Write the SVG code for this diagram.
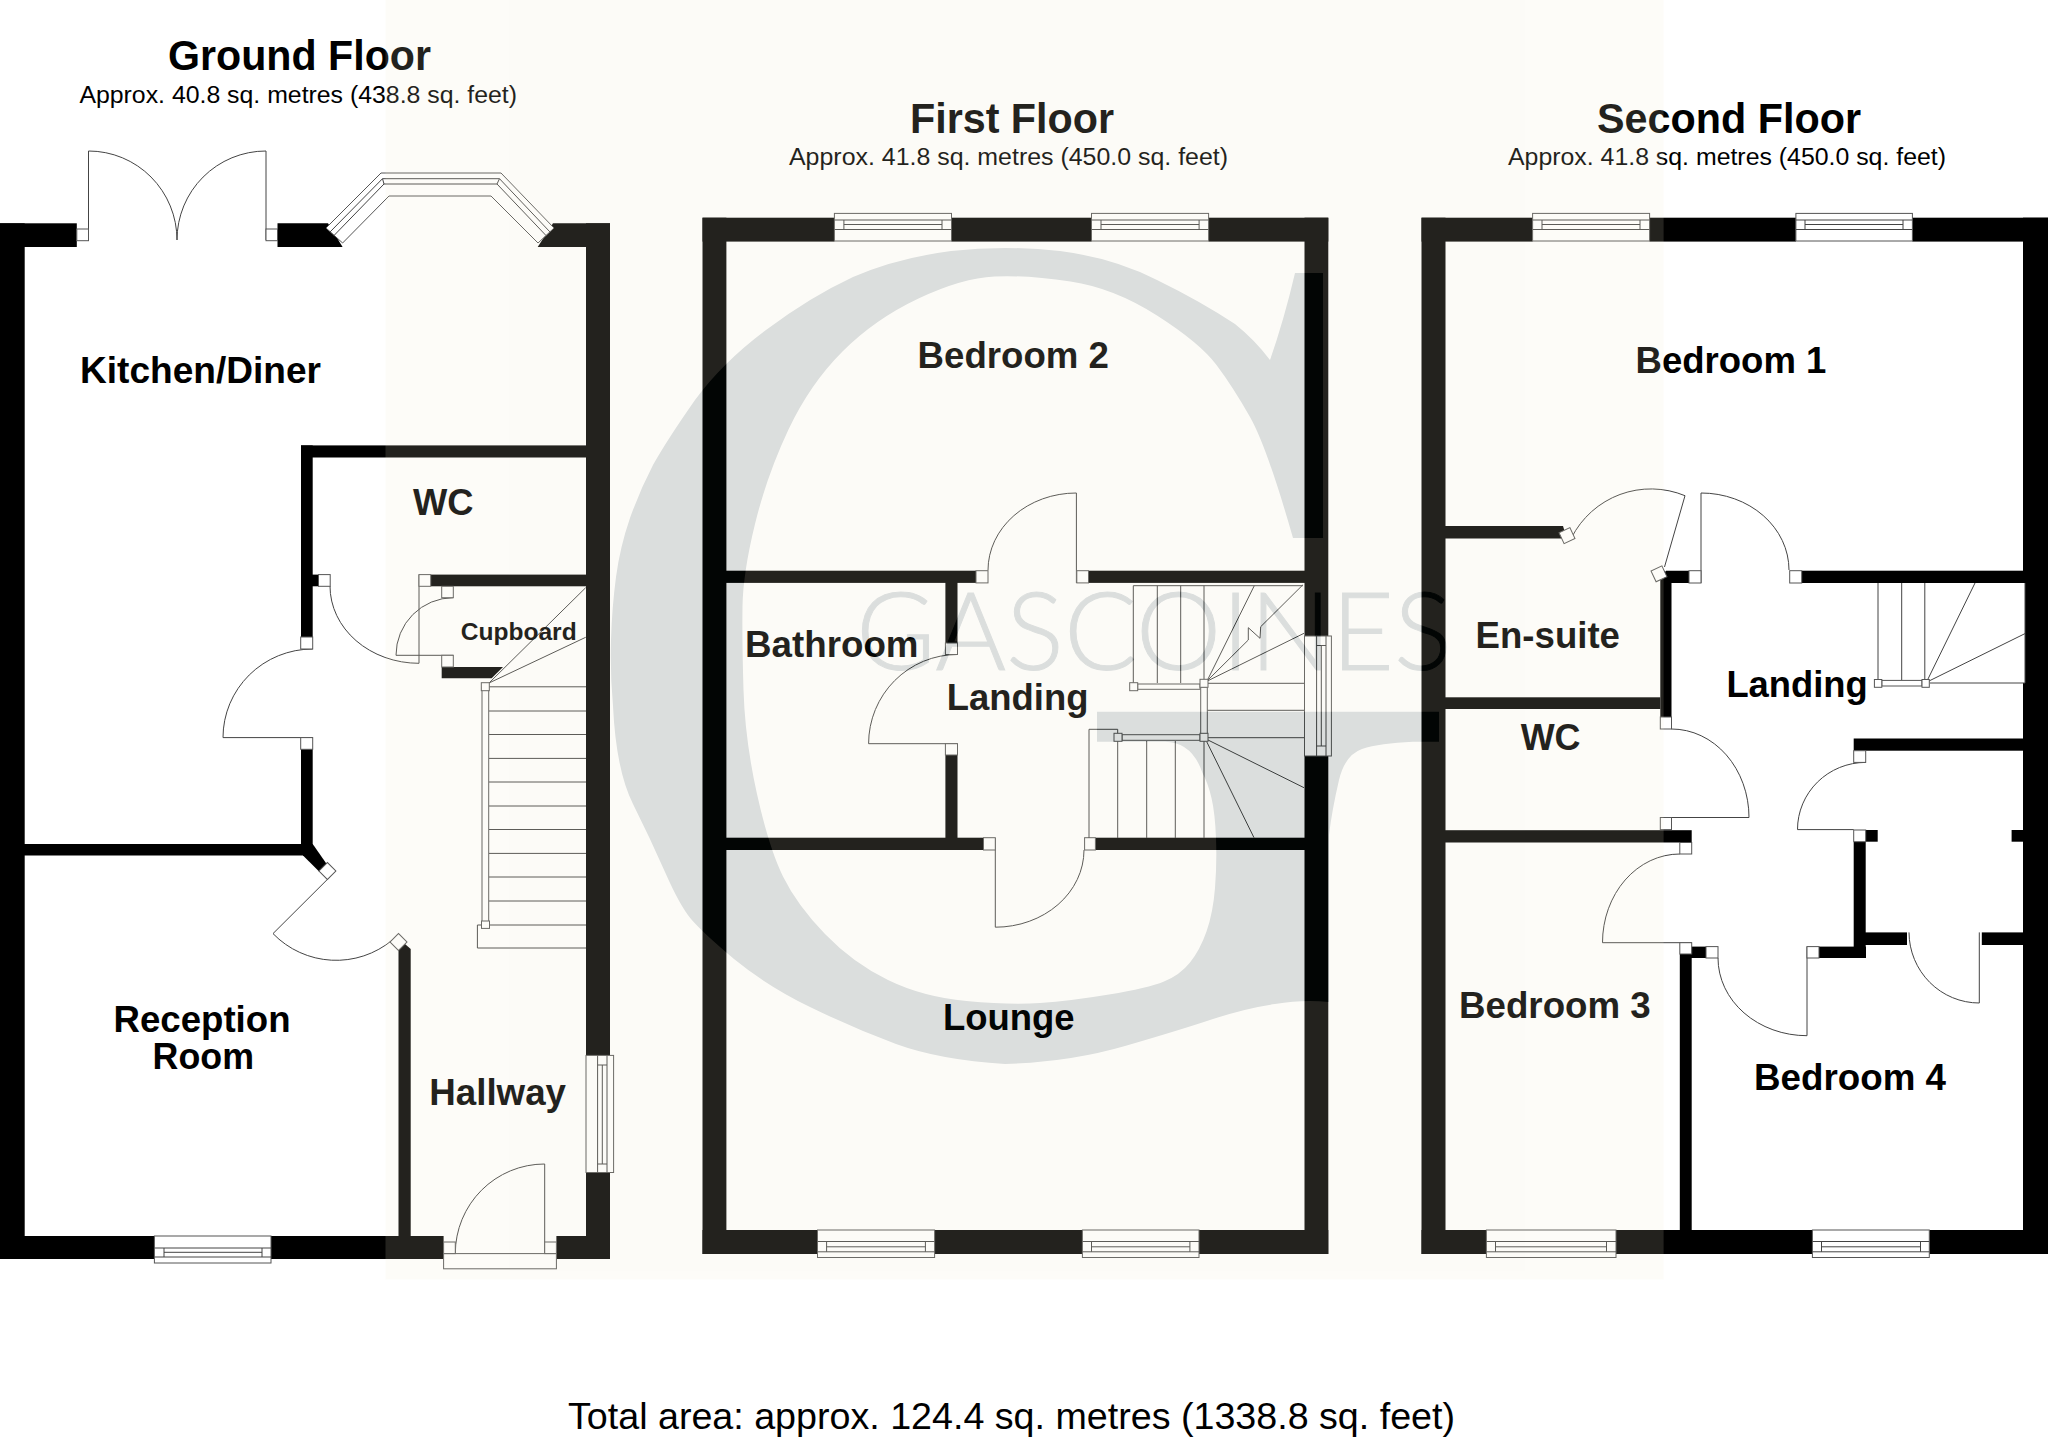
<svg xmlns="http://www.w3.org/2000/svg" width="2048" height="1441" viewBox="0 0 2048 1441">
<style>
.wall{fill:#000}
.l{fill:none;stroke:#444;stroke-width:1}
.f{fill:#fff;stroke:#555;stroke-width:1}
text{font-family:"Liberation Sans",Arial,sans-serif;fill:#000}
.t{font-size:36.5px;font-weight:700}
.h{font-size:43px;font-weight:700}
.s{font-size:24.8px}
.o{font-size:37px}
.c{font-size:24.5px;font-weight:700}
</style>
<rect width="2048" height="1441" fill="#fff"/>
<g id="ground-floor">
<g id="ground-walls">
<rect class="wall" x="0" y="223.3" width="24.7" height="1035.7"/>
<rect class="wall" x="0" y="223.3" width="76.8" height="23.7"/>
<polygon class="wall" points="277.5,223.3 328,223.3 342.6,247 277.5,247"/>
<polygon class="wall" points="553,223.3 610,223.3 610,247 537.7,247"/>
<rect class="wall" x="586" y="223.3" width="24" height="832"/>
<rect class="wall" x="586" y="1172.5" width="24" height="86.5"/>
<rect class="wall" x="0" y="1236" width="154.4" height="23"/>
<rect class="wall" x="271" y="1236" width="172.6" height="23"/>
<rect class="wall" x="556.4" y="1236" width="53.6" height="23"/>
<rect class="wall" x="301" y="445.4" width="285" height="12.1"/>
<rect class="wall" x="301" y="445.4" width="11.7" height="191.6"/>
<rect class="wall" x="312" y="574.6" width="7" height="11.7"/>
<rect class="wall" x="430.6" y="574.6" width="156" height="11.7"/>
<polygon class="wall" points="441.7,667 503,667 491.7,678.3 441.7,678.3"/>
<rect class="wall" x="301" y="749" width="11.7" height="100"/>
<rect class="wall" x="24" y="844" width="280" height="11.5"/>
<polygon class="wall" points="301,844 312.7,844 327,864.6 319.6,872 303,855.5"/>
<polygon class="wall" points="398.5,949 405,944 410.7,949 410.7,1236 398.5,1236"/>
</g>
<g id="ground-doors">
<path class="l" d="M88.5 240V151A88.5 89 0 0 1 177 240A89 89 0 0 1 266 151V240"/>
<path class="l" d="M419 574.6V663.3A89 77.3 0 0 1 330 586"/>
<path class="l" d="M312.7 649A89.7 88.6 0 0 0 223 737.6H312.7"/>
<path class="l" d="M453.3 597.7A57.3 57.6 0 0 0 396 655.3H453.3"/>
<path class="l" d="M327.4 879.4L273 933.6A88 88 0 0 0 392.4 940"/>
<path class="l" d="M544.7 1253.6V1164A89.4 89.6 0 0 0 455.3 1253.6"/>
<rect class="f" x="76.8" y="229" width="11.7" height="11.7"/>
<rect class="f" x="266" y="229" width="11.5" height="11.7"/>
<rect class="f" x="318.5" y="574.6" width="11.7" height="11.7"/>
<rect class="f" x="419" y="574.6" width="11.7" height="11.7"/>
<rect class="f" x="300.7" y="637" width="12" height="12"/>
<rect class="f" x="300.7" y="737.6" width="12" height="11.7"/>
<rect class="f" x="441.7" y="586.3" width="11.6" height="11.4"/>
<rect class="f" x="441.7" y="655.3" width="11.6" height="11.7"/>
<rect class="f" x="321.4" y="865" width="12" height="12" transform="rotate(45 327.4 871)"/>
<rect class="f" x="392.5" y="936" width="12" height="12" transform="rotate(45 398.5 942)"/>
<rect class="f" x="443.6" y="1253.6" width="112.8" height="15.2"/>
<rect class="f" x="443.6" y="1242" width="11.7" height="11.6"/>
<rect class="f" x="544.7" y="1242" width="11.7" height="11.6"/>
</g>
<g id="ground-windows">
<path class="f" d="M326 228L381 173H501L554 228L538 243L491 196H389L342.6 243Z"/>
<path class="l" d="M330 232L382.500 178.700H499.500L550 232M334 235.500L384 184H497L546 235.500M384 184L382.500 178.700M497 184L499.500 178.700"/>
<rect class="f" x="154.400" y="1236" width="116.600" height="27"/>
<path class="l" d="M154.400 1248H271M154.400 1257H271M164 1248V1257M262 1248V1257M164 1252.300H262"/>
<rect class="f" x="586" y="1055.400" width="27.600" height="117.100"/>
<path class="l" d="M597.600 1055.400V1172.500M607 1055.400V1172.500M597.600 1065H607M597.600 1164H607M602.300 1065V1164"/>
</g>
<g id="ground-stairs">
<path class="l" d="M489 683L585.700 587.700M489 683L585.700 637.300M489 686.800H586M489 711H586M489 734.500H586M489 758.400H586M489 782H586M489 806H586M489 829.500H586M489 853.400H586M489 877H586M489 901H586M477.400 925H586M477.400 925V948H586"/>
<rect class="f" x="482" y="687" width="6.700" height="238"/>
<rect class="f" x="481.300" y="682.700" width="8" height="8"/>
<rect class="f" x="481.500" y="921" width="8" height="7.400"/>
</g>
<g id="ground-labels">
<text class="h" x="168" y="70.400" textLength="263" lengthAdjust="spacingAndGlyphs">Ground Floor</text>
<text class="s" x="79.400" y="103" textLength="437.600" lengthAdjust="spacingAndGlyphs">Approx. 40.8 sq. metres (438.8 sq. feet)</text>
<text class="t" x="80" y="382.600" textLength="241" lengthAdjust="spacingAndGlyphs">Kitchen/Diner</text>
<text class="t" x="413" y="514.700" textLength="60.500" lengthAdjust="spacingAndGlyphs">WC</text>
<text class="c" x="460.700" y="640" textLength="116" lengthAdjust="spacingAndGlyphs">Cupboard</text>
<text class="t" x="113.600" y="1031.600" textLength="176.900" lengthAdjust="spacingAndGlyphs">Reception</text>
<text class="t" x="152.600" y="1069.400" textLength="101.400" lengthAdjust="spacingAndGlyphs">Room</text>
<text class="t" x="429.300" y="1105" textLength="136.700" lengthAdjust="spacingAndGlyphs">Hallway</text>
</g>
</g>
<g id="first-floor">
<g id="first-walls">
<rect class="wall" x="702.500" y="217.700" width="23.900" height="1036.300"/>
<rect class="wall" x="1304.500" y="217.700" width="23.800" height="418.300"/>
<rect class="wall" x="1304.500" y="756" width="23.800" height="498"/>
<rect class="wall" x="702.500" y="217.700" width="131.900" height="23.900"/>
<rect class="wall" x="951.500" y="217.700" width="140" height="23.900"/>
<rect class="wall" x="1208.600" y="217.700" width="119.700" height="23.900"/>
<rect class="wall" x="702.500" y="1230" width="115" height="24"/>
<rect class="wall" x="934.600" y="1230" width="147.800" height="24"/>
<rect class="wall" x="1199" y="1230" width="129.300" height="24"/>
<rect class="wall" x="726" y="570.700" width="250" height="12.200"/>
<rect class="wall" x="1088.500" y="570.700" width="216.500" height="12.200"/>
<rect class="wall" x="945.400" y="582" width="12.100" height="61"/>
<rect class="wall" x="945.400" y="755" width="12.100" height="83"/>
<rect class="wall" x="726" y="837.700" width="257.500" height="12.300"/>
<rect class="wall" x="1095.400" y="837.700" width="209.600" height="12.300"/>
</g>
<g id="first-doors">
<path class="l" d="M1076.400 583V493A88.400 77.300 0 0 0 988 570.300"/>
<path class="l" d="M957.500 654.500A88.900 89.200 0 0 0 868.600 743.700H957.500"/>
<path class="l" d="M995.300 838V927.200A88.700 77.200 0 0 0 1084 850"/>
<rect class="f" x="976" y="570.700" width="12" height="12.200"/>
<rect class="f" x="1076.800" y="570.700" width="11.700" height="12.200"/>
<rect class="f" x="945.400" y="643" width="12.100" height="11.500"/>
<rect class="f" x="945.400" y="743.700" width="12.100" height="11.300"/>
<rect class="f" x="983.500" y="837.700" width="11.800" height="12.300"/>
<rect class="f" x="1084.600" y="837.700" width="10.800" height="12.300"/>
</g>
<g id="first-windows">
<rect class="f" x="834.400" y="213.400" width="117.100" height="27.600"/>
<path class="l" d="M834.400 220H951.500M834.400 229.500H951.500M843.900 220V229.500M942 220V229.500M843.900 224.500H942"/>
<rect class="f" x="1091.500" y="213.400" width="117.100" height="27.600"/>
<path class="l" d="M1091.500 220H1208.600M1091.500 229.500H1208.600M1101 220V229.500M1199.100 220V229.500M1101 224.500H1199.100"/>
<rect class="f" x="817.500" y="1230" width="117.100" height="27.500"/>
<path class="l" d="M817.500 1241.500H934.600M817.500 1251.800H934.600M826.600 1241.500V1251.800M925.400 1241.500V1251.800M826.600 1246.800H925.400"/>
<rect class="f" x="1082.400" y="1230" width="116.600" height="27.500"/>
<path class="l" d="M1082.400 1241.500H1199M1082.400 1251.800H1199M1091.500 1241.500V1251.800M1189.900 1241.500V1251.800M1091.500 1246.800H1189.900"/>
<rect class="f" x="1304.500" y="636" width="26.900" height="120"/>
<path class="l" d="M1316.600 636V756M1326 636V756M1316.600 645.500H1326M1316.600 746H1326M1321.300 645.500V746"/>
</g>
<g id="first-stairs">
<path class="l" d="M1133.300 683V585.700H1303M1157.300 585.700V683M1180.700 585.700V683M1204 585.700V683"/>
<path class="l" d="M1208 679L1254.300 585.700M1208 680L1248.300 640V627.700L1260 638.300L1260.700 626.700L1302.700 585M1208 680.700L1304 633.300M1208 683.300H1304M1207 710.300H1304M1208 737.700H1304M1208 740L1304 787.700M1206.700 741.700L1254 837.700"/>
<path class="l" d="M1117.700 741V838M1146.700 741V838M1175.300 741V838M1204 741V838M1089 838V729.300H1117.700V734"/>
<rect class="f" x="1137.700" y="684" width="62.300" height="5.300"/>
<rect class="f" x="1200.700" y="687" width="6.600" height="47"/>
<rect class="f" x="1122" y="734.700" width="78" height="5.600"/>
<rect class="f" x="1129.700" y="682.700" width="8" height="8"/>
<rect class="f" x="1200" y="679.300" width="8" height="8"/>
<rect class="f" x="1200" y="733.300" width="8" height="8"/>
<rect class="f" x="1114" y="733.300" width="8" height="8"/>
</g>
<g id="first-labels">
<text class="h" x="910" y="132.500" textLength="204" lengthAdjust="spacingAndGlyphs">First Floor</text>
<text class="s" x="789" y="165" textLength="439" lengthAdjust="spacingAndGlyphs">Approx. 41.8 sq. metres (450.0 sq. feet)</text>
<text class="t" x="917.600" y="367.800" textLength="191.400" lengthAdjust="spacingAndGlyphs">Bedroom 2</text>
<text class="t" x="745" y="657" textLength="173.500" lengthAdjust="spacingAndGlyphs">Bathroom</text>
<text class="t" x="946.700" y="710" textLength="141.800" lengthAdjust="spacingAndGlyphs">Landing</text>
<text class="t" x="943" y="1029.800" textLength="131.600" lengthAdjust="spacingAndGlyphs">Lounge</text>
</g>
</g>
<g id="second-floor">
<g id="second-walls">
<rect class="wall" x="1421.500" y="217.700" width="24" height="1036.300"/>
<rect class="wall" x="2023" y="217.700" width="25" height="1036.300"/>
<rect class="wall" x="1421.500" y="217.700" width="111.100" height="23.900"/>
<rect class="wall" x="1649.600" y="217.700" width="146.300" height="23.900"/>
<rect class="wall" x="1912.400" y="217.700" width="135.600" height="23.900"/>
<rect class="wall" x="1421.500" y="1230" width="64.900" height="24"/>
<rect class="wall" x="1616" y="1230" width="196.400" height="24"/>
<rect class="wall" x="1929.300" y="1230" width="118.700" height="24"/>
<polygon class="wall" points="1445,526 1563,526 1567,538.600 1445,538.600"/>
<polygon class="wall" points="1666,570.700 1689,570.700 1689,583 1671.500,583 1671.500,717 1660.300,717 1660.300,578"/>
<rect class="wall" x="1801.700" y="570.700" width="221.300" height="12.300"/>
<rect class="wall" x="1445" y="697.300" width="215.300" height="11.700"/>
<rect class="wall" x="1445" y="830.200" width="246.700" height="12.300"/>
<rect class="wall" x="1679.800" y="954" width="11.900" height="276"/>
<rect class="wall" x="1691" y="946.600" width="15" height="11.400"/>
<rect class="wall" x="1819" y="946.600" width="47" height="11.400"/>
<rect class="wall" x="1853.700" y="841.700" width="12" height="116"/>
<rect class="wall" x="1865.700" y="830" width="12" height="11.700"/>
<rect class="wall" x="2011.600" y="830" width="11.900" height="11.700"/>
<rect class="wall" x="1853.700" y="738.500" width="169.500" height="12.200"/>
<rect class="wall" x="1865" y="932.400" width="42" height="12.600"/>
<rect class="wall" x="1981.800" y="932.400" width="41.500" height="12.600"/>
</g>
<g id="second-doors">
<path class="l" d="M1571.500 537.800A89 89 0 0 1 1685 495.700L1664.500 567"/>
<path class="l" d="M1701 583V493A88 77 0 0 1 1789 570"/>
<path class="l" d="M1671.500 729A77.500 88.500 0 0 1 1749 817.500H1660.300"/>
<path class="l" d="M1679.800 854A77.300 88.700 0 0 0 1602.500 942.700H1691.700"/>
<path class="l" d="M1807 946.600V1035.700A89 77.700 0 0 1 1718 958"/>
<path class="l" d="M1865.700 762.400A68.200 67.200 0 0 0 1797.500 829.600H1853.700"/>
<path class="l" d="M1979.300 932.400V1003A70.300 71 0 0 1 1909 932.400"/>
<rect class="f" x="1561" y="529.600" width="12" height="12" transform="rotate(-25 1567 535.600)"/>
<rect class="f" x="1653" y="567.800" width="12" height="12" transform="rotate(-25 1659 573.800)"/>
<rect class="f" x="1689" y="570.700" width="12" height="12.300"/>
<rect class="f" x="1789.700" y="570.700" width="12" height="12.300"/>
<rect class="f" x="1660.300" y="717" width="11.200" height="12"/>
<rect class="f" x="1660.300" y="817.500" width="11.200" height="12.100"/>
<rect class="f" x="1679.800" y="842.500" width="11.900" height="11.500"/>
<rect class="f" x="1679.800" y="942.700" width="11.900" height="11.300"/>
<rect class="f" x="1706" y="946.600" width="12" height="11.400"/>
<rect class="f" x="1807" y="946.600" width="12" height="11.400"/>
<rect class="f" x="1853.700" y="750.700" width="12" height="11.700"/>
<rect class="f" x="1853.700" y="830" width="12" height="11.700"/>
</g>
<g id="second-windows">
<rect class="f" x="1532.600" y="213.400" width="117" height="27.600"/>
<path class="l" d="M1532.600 220H1649.600M1532.600 229.500H1649.600M1542 220V229.500M1640 220V229.500M1542 224.500H1640"/>
<rect class="f" x="1795.900" y="213.400" width="116.500" height="27.600"/>
<path class="l" d="M1795.900 220H1912.400M1795.900 229.500H1912.400M1805 220V229.500M1903 220V229.500M1805 224.500H1903"/>
<rect class="f" x="1486.400" y="1230" width="129.600" height="27.500"/>
<path class="l" d="M1486.400 1241.500H1616M1486.400 1251.800H1616M1495.500 1241.500V1251.800M1606.500 1241.500V1251.800M1495.500 1246.800H1606.500"/>
<rect class="f" x="1812.400" y="1230" width="116.900" height="27.500"/>
<path class="l" d="M1812.400 1241.500H1929.300M1812.400 1251.800H1929.300M1821.500 1241.500V1251.800M1920.500 1241.500V1251.800M1821.500 1246.800H1920.500"/>
</g>
<g id="second-stairs">
<rect x="2023" y="583" width="2" height="100" fill="#fff"/>
<path class="l" d="M1878 583V680M1901.700 583V680M1924.800 583V680M1927 681L1975 583M1929 681L2025 633.600M1930 683H2025V583"/>
<rect class="f" x="1881.800" y="680.400" width="40.200" height="5.600"/>
<rect class="f" x="1874.400" y="679.500" width="7.400" height="7.800"/>
<rect class="f" x="1922" y="679.500" width="7.300" height="7.800"/>
</g>
<g id="second-labels">
<text class="h" x="1597" y="132.500" textLength="264" lengthAdjust="spacingAndGlyphs">Second Floor</text>
<text class="s" x="1508" y="165" textLength="438" lengthAdjust="spacingAndGlyphs">Approx. 41.8 sq. metres (450.0 sq. feet)</text>
<text class="t" x="1635.500" y="373" textLength="190.900" lengthAdjust="spacingAndGlyphs">Bedroom 1</text>
<text class="t" x="1475.600" y="647.500" textLength="144.400" lengthAdjust="spacingAndGlyphs">En-suite</text>
<text class="t" x="1726.400" y="697" textLength="141.400" lengthAdjust="spacingAndGlyphs">Landing</text>
<text class="t" x="1520.700" y="750.400" textLength="59.900" lengthAdjust="spacingAndGlyphs">WC</text>
<text class="t" x="1459" y="1018.400" textLength="191.800" lengthAdjust="spacingAndGlyphs">Bedroom 3</text>
<text class="t" x="1754" y="1090.300" textLength="192" lengthAdjust="spacingAndGlyphs">Bedroom 4</text>
</g>
</g>
<text id="total-area" class="o" x="568" y="1429" textLength="887" lengthAdjust="spacingAndGlyphs">Total area: approx. 124.4 sq. metres (1338.8 sq. feet)</text>
<g id="watermark" opacity=".145">
<rect x="385.500" y="0" width="1278.100" height="1279.500" fill="rgb(241,234,207)"/>
<path fill="rgb(14,34,28)" d="M1295 273H1323V538H1293Q1267 447 1250 417Q1233 387 1216.500 365Q1200 343 1157 315.500Q1114 288 1070.500 281.500Q1027 275 994.500 276.500Q962 278 918.500 298.500Q875 319 842.500 351.500Q810 384 788.500 429.500Q767 475 755 524Q743 573 742.500 606.500Q742 640 743.500 690Q745 740 757 794Q769 848 783 876.500Q797 905 825 934Q853 963 888 980Q923 997 966.500 1001Q1010 1005 1040 1003Q1070 1001 1109 994.500Q1148 988 1164 981.500Q1180 975 1190 962.500Q1200 950 1206.500 931.500Q1213 913 1215 888Q1217 863 1216 838Q1215 813 1211.500 798Q1208 783 1202.500 773Q1192 742 1165 741.700H1097V711.700H1439V741.700H1413Q1380 743 1362 749Q1345 755 1339 780Q1332 810 1329 835V1002Q1304 999 1275 1004Q1247 1008 1213 1019Q1180 1030 1125 1046Q1070 1062 1005 1064Q940 1060 896 1044Q853 1028 810 1007Q767 986 734 959Q702 932 691 919Q680 906 665 872Q650 838 633 804Q616 770 613 706Q610 673 611 640Q612 607 616 577Q620 547 630 518Q640 490 653 465Q667 440 695 400Q723 362 766 330Q810 297 853 277Q897 258 951 251Q1005 245 1060 251Q1114 258 1157 280Q1200 301 1235 324Q1255 340 1270 360Q1284 320 1295 273Z"/>
<text x="856" y="670" textLength="596" lengthAdjust="spacingAndGlyphs" style="font-family:Lato,'Open Sans',sans-serif;font-weight:300;font-size:108px;fill:rgb(14,34,28);stroke:rgb(14,34,28);stroke-width:1">GASCOINES</text>
</g>
</svg>
